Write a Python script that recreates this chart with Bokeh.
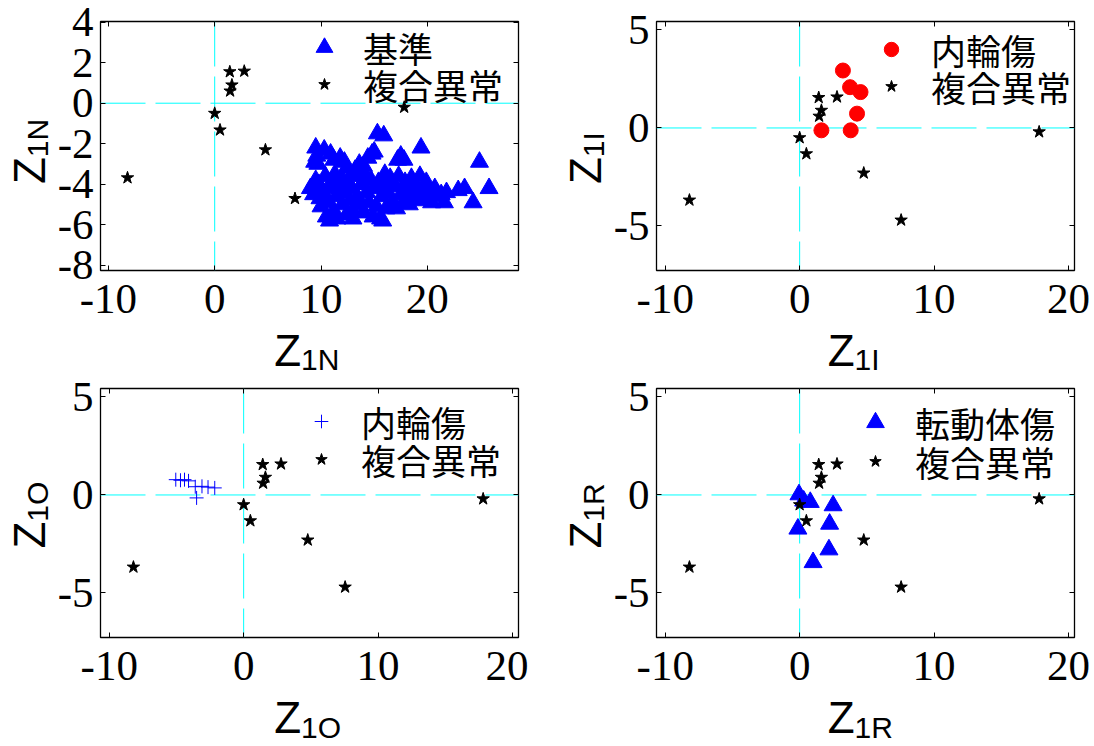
from math import pi
from bokeh.plotting import figure
from bokeh.layouts import gridplot
from bokeh.models import (Span, Label, Legend, LegendItem, FixedTicker,
                          LinearAxis, Range1d)
from bokeh.embed import file_html
from bokeh.resources import INLINE

# ---------------- data ----------------
# 複合異常 (same in all four panels)
star_x = [-8.2, 0.0, 0.5, 1.42, 1.62, 1.45, 2.78, 4.77, 7.55, 17.82]
star_y = [-3.68, -0.5, -1.32, 1.55, 0.9, 0.6, 1.58, -2.3, -4.7, -0.2]

# 基準 (panel 1)
base_x = [9.5, 9.6, 9.7, 9.4, 10.9, 11.2, 11.8, 12.2, 12.4, 13.2, 13.6, 14.4, 14.8, 15.0,
          15.3, 15.9, 17.2, 17.8, 17.5, 19.4, 24.9, 14.0, 10.3,
          9.0, 9.3, 9.5, 9.8, 9.9, 10.0, 10.2, 10.4, 10.5, 10.7, 10.9, 11.0, 11.2, 11.4,
          11.5, 11.7, 11.9, 12.0, 12.2, 12.4, 12.5, 12.7, 12.9, 13.0, 13.2, 13.4, 13.6,
          13.8, 14.0, 14.1, 14.3, 14.5, 14.7, 14.9, 15.0, 15.2, 15.4, 15.6, 15.7, 15.9,
          16.1, 16.3, 16.5, 16.7, 16.9, 17.1, 17.3, 17.5, 17.7, 17.9, 18.1, 18.3, 18.5,
          18.7, 18.9, 19.1, 19.3, 19.5, 19.7, 19.9, 20.1, 20.4, 20.7, 21.0, 21.3, 21.6,
          21.8, 22.9, 23.5, 24.3, 25.8, 13.0, 15.8, 10.8, 12.3, 11.3, 16.0]
base_y = [-2.2, -2.6, -3.0, -2.9, -2.5, -2.8, -2.7, -2.9, -3.2, -3.3, -3.0, -2.7, -2.5, -2.4,
          -1.5, -1.6, -2.8, -2.8, -2.6, -2.2, -2.9, -3.1, -2.3,
          -4.2, -4.5, -3.8, -4.0, -4.7, -5.1, -4.4, -3.6, -5.6, -4.9, -4.2, -3.9, -5.3, -4.6,
          -5.7, -4.1, -3.7, -5.0, -4.4, -5.5, -3.9, -4.8, -4.2, -5.3, -3.6, -4.6, -5.0,
          -4.0, -5.4, -3.5, -4.4, -4.9, -3.8, -5.6, -4.2, -5.1, -3.9, -5.7, -4.6, -4.0,
          -5.2, -4.4, -3.7, -4.9, -4.1, -5.2, -3.6, -4.5, -4.9, -3.9, -4.3, -5.0, -3.7,
          -4.6, -4.1, -4.8, -3.6, -4.3, -4.7, -3.9, -4.5, -4.9, -4.2, -4.6, -4.5, -4.9,
          -4.4, -4.3, -4.2, -4.9, -4.2, -5.7, -5.8, -5.8, -4.0, -3.5, -3.5]

# 内輪傷 (panel 2)
inner2_x = [3.22, 3.75, 4.53, 4.27, 1.62, 3.80]
inner2_y = [2.93, 2.08, 1.83, 0.73, -0.12, -0.12]

# 内輪傷 (panel 3)
inner3_x = [-5.05, -4.7, -4.4, -4.1, -3.6, -3.5, -3.1, -2.65, -2.15]
inner3_y = [0.78, 0.75, 0.78, 0.72, 0.42, -0.15, 0.44, 0.40, 0.36]

# 転動体傷 (panel 4)
roll_x = [-0.05, 0.3, 0.79, 2.49, 2.23, -0.13, 2.18, 1.0]
roll_y = [0.02, -0.3, -0.37, -0.54, -1.48, -1.73, -2.79, -3.44]

# ticks
x_ticks = [-10, 0, 10, 20]
x_tick_labels = ["-10", "0", "10", "20"]
y1_ticks = [-8, -6, -4, -2, 0, 2, 4]
y1_tick_labels = ["-8", "-6", "-4", "-2", "0", "2", "4"]
y_ticks = [-5, 0, 5]
y_tick_labels = ["-5", "0", "5"]

SERIF = "Liberation Serif"
SANS = "Liberation Sans"
CJK = "Noto Sans CJK JP"

FRAME_W, FRAME_H = 421, 249


def style_axis(ax, ticks, labels, show_labels=True, standoff=7):
    ax.ticker = FixedTicker(ticks=ticks)
    ax.axis_line_color = None
    ax.major_tick_in = 5
    ax.major_tick_out = 0
    ax.minor_tick_in = 0
    ax.minor_tick_out = 0
    ax.major_tick_line_color = "black"
    ax.major_tick_line_width = 1
    if show_labels:
        ax.major_label_overrides = {t: l for t, l in zip(ticks, labels)}
        ax.major_label_text_font = SERIF
        ax.major_label_text_font_size = "43px"
        ax.major_label_text_color = "black"
        ax.major_label_standoff = standoff
    else:
        ax.major_label_overrides = {t: "" for t in ticks}
        ax.major_label_text_font_size = "0px"
        ax.major_label_text_color = None
        ax.major_label_standoff = 0


def make_panel(xr, yr, yt, ytl, ml, mr, mt, mb):
    p = figure(width=ml + FRAME_W + mr, height=mt + FRAME_H + mb,
               x_range=Range1d(*xr), y_range=Range1d(*yr),
               output_backend="svg", toolbar_location=None,
               min_border_left=ml, min_border_right=mr,
               min_border_top=mt, min_border_bottom=mb)
    p.grid.visible = False
    p.outline_line_color = "black"
    p.outline_line_width = 1.3
    style_axis(p.xaxis[0], x_ticks, x_tick_labels, standoff=14)
    style_axis(p.yaxis[0], yt, ytl, standoff=7)
    top = LinearAxis()
    style_axis(top, x_ticks, x_tick_labels, show_labels=False)
    p.add_layout(top, "above")
    right = LinearAxis()
    style_axis(right, yt, ytl, show_labels=False)
    p.add_layout(right, "right")
    for dim in ("width", "height"):
        p.add_layout(Span(location=0, dimension=dim, line_color="#00FFFF",
                          line_width=1, line_dash="45 10", level="underlay"))
    return p


def add_legend_item(p, label, r, loc, glyph_w, standoff):
    lg = Legend(items=[LegendItem(label=label, renderers=[r])],
                location=loc, orientation="vertical",
                border_line_color=None, background_fill_alpha=0,
                padding=0, margin=0, spacing=0,
                glyph_width=glyph_w, glyph_height=56, label_height=38,
                label_standoff=standoff, label_text_font=CJK,
                label_text_font_size="35px", label_text_color="black")
    p.add_layout(lg)


def blank_fig(w, h):
    f = figure(width=w, height=h, x_range=Range1d(0, w), y_range=Range1d(0, h),
               x_axis_type=None, y_axis_type=None, output_backend="svg",
               toolbar_location=None, min_border_left=0, min_border_right=0,
               min_border_top=0, min_border_bottom=0)
    f.outline_line_color = None
    f.grid.visible = False
    return f


def xlabel_fig(w, h, jx, zy, sy, sub):
    f = blank_fig(w, h)
    f.add_layout(Label(x=jx, y=zy, text="Z", text_align="right",
                       text_baseline="alphabetic", text_font=SANS,
                       text_font_size="44px", text_color="black"))
    f.add_layout(Label(x=jx, y=sy, text=sub, text_align="left",
                       text_baseline="alphabetic", text_font=SANS,
                       text_font_size="30px", text_color="black"))
    return f


def ylabel_fig(w, h, zx, sx, jy, sub):
    f = blank_fig(w, h)
    f.add_layout(Label(x=zx, y=jy, text="Z", angle=pi / 2,
                       text_align="right", text_baseline="alphabetic", text_font=SANS,
                       text_font_size="44px", text_color="black"))
    f.add_layout(Label(x=sx, y=jy, text=sub, angle=pi / 2,
                       text_align="left", text_baseline="alphabetic", text_font=SANS,
                       text_font_size="30px", text_color="black"))
    return f


X1 = (-10.74, 28.57)
Y1 = (-8.25, 4.03)
X2 = (-10.65, 20.45)
Y2 = (-7.27, 5.43)

# layout sizes
C1, C3 = 54, 82
ML, MR1, MR2 = 43, 10, 16
MT1, MT3, MB = 21, 14, 54
RB, RD = 50, 53

p1 = make_panel(X1, Y1, y1_ticks, y1_tick_labels, ML, MR1, MT1, MB)
r_b = p1.scatter(base_x, base_y, marker="triangle", size=18, color="#0000FF")
r_s1 = p1.scatter(star_x, star_y, marker="star", size=13, color="black")
add_legend_item(p1, "基準", r_b, (203, 195), 42, 18)
add_legend_item(p1, "複合異常", r_s1, (209, 158), 30, 24)

p2 = make_panel(X2, Y2, y_ticks, y_tick_labels, ML, MR2, MT1, MB)
r_c = p2.scatter(inner2_x, inner2_y, marker="circle", size=15, color="#FF0000")
r_s2 = p2.scatter(star_x, star_y, marker="star", size=13, color="black")
add_legend_item(p2, "内輪傷", r_c, (217, 193), 36, 22)
add_legend_item(p2, "複合異常", r_s2, (220, 156), 30, 25)

p3 = make_panel(X2, Y2, y_ticks, y_tick_labels, ML, MR1, MT3, MB)
r_p = p3.scatter(inner3_x, inner3_y, marker="cross", size=14, color="#0000FF",
                 line_width=1)
r_s3 = p3.scatter(star_x, star_y, marker="star", size=13, color="black")
add_legend_item(p3, "内輪傷", r_p, (204, 188), 34, 23)
add_legend_item(p3, "複合異常", r_s3, (206, 150), 30, 25)

p4 = make_panel(X2, Y2, y_ticks, y_tick_labels, ML, MR2, MT3, MB)
r_t = p4.scatter(roll_x, roll_y, marker="triangle", size=18, color="#0000FF")
r_s4 = p4.scatter(star_x, star_y, marker="star", size=13, color="black")
add_legend_item(p4, "転動体傷", r_t, (197, 187), 44, 18)
add_legend_item(p4, "複合異常", r_s4, (204, 148), 30, 25)

hA = MT1 + FRAME_H + MB
hC = MT3 + FRAME_H + MB
w1 = ML + FRAME_W + MR1
w2 = ML + FRAME_W + MR2
jx = ML + FRAME_W / 2 - 10 - 16

jyA = hA - (MT1 + FRAME_H / 2 + 11) - 20
jyC = hC - (MT3 + FRAME_H / 2 + 11) - 20
yl1 = ylabel_fig(C1, hA, 28.5, 37.1, jyA, "1N")
yl2 = ylabel_fig(C3, hA, 56.5, 64.6, jyA, "1I")
yl3 = ylabel_fig(C1, hC, 28.5, 37.1, jyC, "1O")
yl4 = ylabel_fig(C3, hC, 56.5, 64.6, jyC, "1R")
xl1 = xlabel_fig(w1, RB, jx, 24.3, 14.6, "1N")
xl2 = xlabel_fig(w2, RB, jx, 24.3, 14.6, "1I")
xl3 = xlabel_fig(w1, RD, jx, 27.5, 16.9, "1O")
xl4 = xlabel_fig(w2, RD, jx, 27.5, 16.9, "1R")

grid = gridplot([[yl1, p1, yl2, p2],
                 [None, xl1, None, xl2],
                 [yl3, p3, yl4, p4],
                 [None, xl3, None, xl4]], toolbar_location=None)

open("out.html", "w").write(file_html(grid, INLINE))
